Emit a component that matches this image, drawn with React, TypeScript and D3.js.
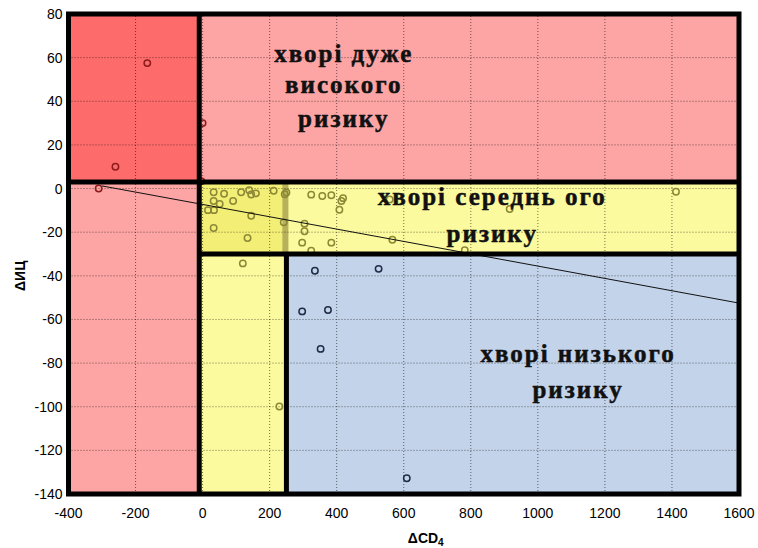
import React from "react";
import * as d3 from "d3";

// ---- data ----
const xTicks = [-400, -200, 0, 200, 400, 600, 800, 1000, 1200, 1400, 1600];
const yTicks = [-140, -120, -100, -80, -60, -40, -20, 0, 20, 40, 60, 80];
const xDomain = [-400, 1600];
const yDomain = [-140, 80];

// risk thresholds
const xSplitLow = -10;
const xSplitHigh = 250;
const ySplitHigh = 3;
const ySplitLow = -30;

const pointsX = [
  -165, -260, -310, 0, -4,
  33, 64, 115, 139, 145, 159, 212, 245, 250,
  33, 51, 91, 16, 34, 145, 33, 134, 242,
  324, 357, 384, 419, 414, 408, 304, 304, 297, 384, 324, 566, 782, 558, 916, 1412,
  120, 335, 525, 297, 374, 352, 229, 609,
];
const pointsY = [
  57.5, 10, 0, 30, 3.4,
  -1.7, -2.4, -1.7, -0.8, -2.7, -2.2, -1, -2.6, -1.8,
  -5.7, -7.1, -5.7, -9.9, -9.9, -12.5, -18.1, -22.7, -15.5,
  -2.8, -3.4, -3.1, -4.4, -5.7, -9.7, -16.1, -19.6, -24.8, -24.8, -28.5, -23.5, -28.3, -5, -9.4, -1.5,
  -34.3, -37.7, -36.8, -56.3, -55.7, -73.5, -99.9, -132.8,
];

const trendX = [-300, 1600];
const trendY = [1.2, -52.5];

const labelVeryHigh = ["хворі дуже", "високого", "ризику"];
const labelMedium = ["хворі середнь ого", "ризику"];
const labelLow = ["хворі низького", "ризику"];

const xTitle = "ΔCD";
const xTitleSub = "4";
const yTitle = "ΔИЦ";

// ---- layout ----
const W = 758;
const H = 548;
const left = 68.5;
const right = 739;
const top = 14;
const bottom = 494;

export default function App() {
  const x = d3.scaleLinear().domain(xDomain).range([left, right]);
  const y = d3.scaleLinear().domain(yDomain).range([bottom, top]);

  const cDark = "#fe6b6b";
  const cPink = "#fda4a4";
  const cYellow = "#fbfa9e";
  const cYellowDark = "#f3ef76";
  const cBlue = "#c3d3e9";

  const rect = (x0: number, x1: number, y0: number, y1: number, fill: string, key: string) => (
    <rect
      key={key}
      x={x(x0)}
      y={y(y1)}
      width={x(x1) - x(x0)}
      height={y(y0) - y(y1)}
      fill={fill}
    />
  );

  const regionOf = (px: number, py: number) => {
    if (py > ySplitHigh || px < xSplitLow) return "red";
    if (py > ySplitLow) return "yellow";
    if (px < xSplitHigh) return "yellow";
    return "blue";
  };
  const pointColor: Record<string, string> = {
    red: "#8e1c1c",
    yellow: "#8c8836",
    blue: "#1f2b47",
  };

  const line = d3
    .line<number>()
    .x((d) => x(trendX[d]))
    .y((d) => y(trendY[d]));

  const labelStyle: React.CSSProperties = {
    fontFamily: "'Liberation Serif', 'Times New Roman', serif",
    fontWeight: "bold",
    fontSize: 25,
    letterSpacing: 2,
    fill: "#111",
    stroke: "#111",
    strokeWidth: 0.5,
  };

  const [x0, x1] = xDomain;
  const [y0, y1] = yDomain;

  return (
    <div style={{ position: "fixed", left: 0, top: 0 }}>
      <svg width={W} height={H} style={{ display: "block", background: "#fff" }}>
        {/* regions */}
        {rect(x0, xSplitLow, ySplitHigh, y1, cDark, "r1")}
        {rect(xSplitLow, x1, ySplitHigh, y1, cPink, "r2")}
        {rect(x0, xSplitLow, y0, ySplitHigh, cPink, "r3")}
        {rect(xSplitLow, x1, ySplitLow, ySplitHigh, cYellow, "r4")}
        {rect(xSplitLow, xSplitHigh, y0, ySplitLow, cYellow, "r5")}
        {rect(xSplitLow, xSplitHigh, ySplitLow, ySplitHigh, cYellowDark, "r6")}
        {rect(xSplitHigh - 12, xSplitHigh + 6, ySplitLow, ySplitHigh, "#b8b15c", "r7")}
        {rect(xSplitHigh, x1, y0, ySplitLow, cBlue, "r8")}

        {/* grid */}
        <g stroke="#000" strokeOpacity={0.55} strokeWidth={1} strokeDasharray="1,2">
          {xTicks.slice(1, -1).map((t) => (
            <line key={"gx" + t} x1={x(t)} x2={x(t)} y1={y(y0)} y2={y(y1)} />
          ))}
          {yTicks.slice(1, -1).map((t) => (
            <line key={"gy" + t} x1={x(x0)} x2={x(x1)} y1={y(t)} y2={y(t)} />
          ))}
        </g>

        {/* points */}
        <g fill="none" strokeWidth={1.5}>
          {pointsX.map((px, i) => (
            <circle
              key={"p" + i}
              cx={x(px)}
              cy={y(pointsY[i])}
              r={3.2}
              stroke={pointColor[regionOf(px, pointsY[i])]}
            />
          ))}
        </g>

        {/* trend line */}
        <path d={line([0, 1]) || ""} fill="none" stroke="#111" strokeWidth={1} />

        {/* thick boundaries */}
        <g stroke="#000" strokeWidth={5} fill="none">
          <line x1={x(xSplitLow)} x2={x(xSplitLow)} y1={y(y0)} y2={y(y1)} />
          <line x1={x(x0)} x2={x(x1)} y1={y(ySplitHigh)} y2={y(ySplitHigh)} />
          <line x1={x(xSplitLow)} x2={x(x1)} y1={y(ySplitLow)} y2={y(ySplitLow)} />
          <line x1={x(xSplitHigh)} x2={x(xSplitHigh)} y1={y(ySplitLow)} y2={y(y0)} />
          <rect x={x(x0)} y={y(y1)} width={x(x1) - x(x0)} height={y(y0) - y(y1)} />
        </g>

        {/* region labels */}
        <g style={labelStyle} textAnchor="middle">
          {labelVeryHigh.map((t, i) => (
            <text key={"lv" + i} x={x(421)} y={y([58, 44, 28][i])}>{t}</text>
          ))}
          {labelMedium.map((t, i) => (
            <text key={"lm" + i} x={x(864)} y={y([-7.6, -24.5][i])}>{t}</text>
          ))}
          {labelLow.map((t, i) => (
            <text key={"ll" + i} x={x(1120)} y={y([-79.6, -96][i])}>{t}</text>
          ))}
        </g>

        {/* axes tick labels */}
        <g fontFamily="'Liberation Sans', Arial, sans-serif" fontSize={14} fill="#000">
          {xTicks.map((t) => (
            <text key={"tx" + t} x={x(t)} y={bottom + 24} textAnchor="middle">{t}</text>
          ))}
          {yTicks.map((t) => (
            <text key={"ty" + t} x={left - 6} y={y(t) + 5} textAnchor="end">{t}</text>
          ))}
        </g>

        {/* axis titles */}
        <text
          x={x(600) + 22}
          y={543}
          textAnchor="middle"
          fontFamily="'Liberation Sans', Arial, sans-serif"
          fontWeight="bold"
          fontSize={14}
        >
          {xTitle}
          <tspan fontSize={10} dy={3}>{xTitleSub}</tspan>
        </text>
        <text
          transform={`translate(25,${y(-40)}) rotate(-90)`}
          textAnchor="middle"
          fontFamily="'Liberation Sans', Arial, sans-serif"
          fontWeight="bold"
          fontSize={14}
        >
          {yTitle}
        </text>
      </svg>
    </div>
  );
}
